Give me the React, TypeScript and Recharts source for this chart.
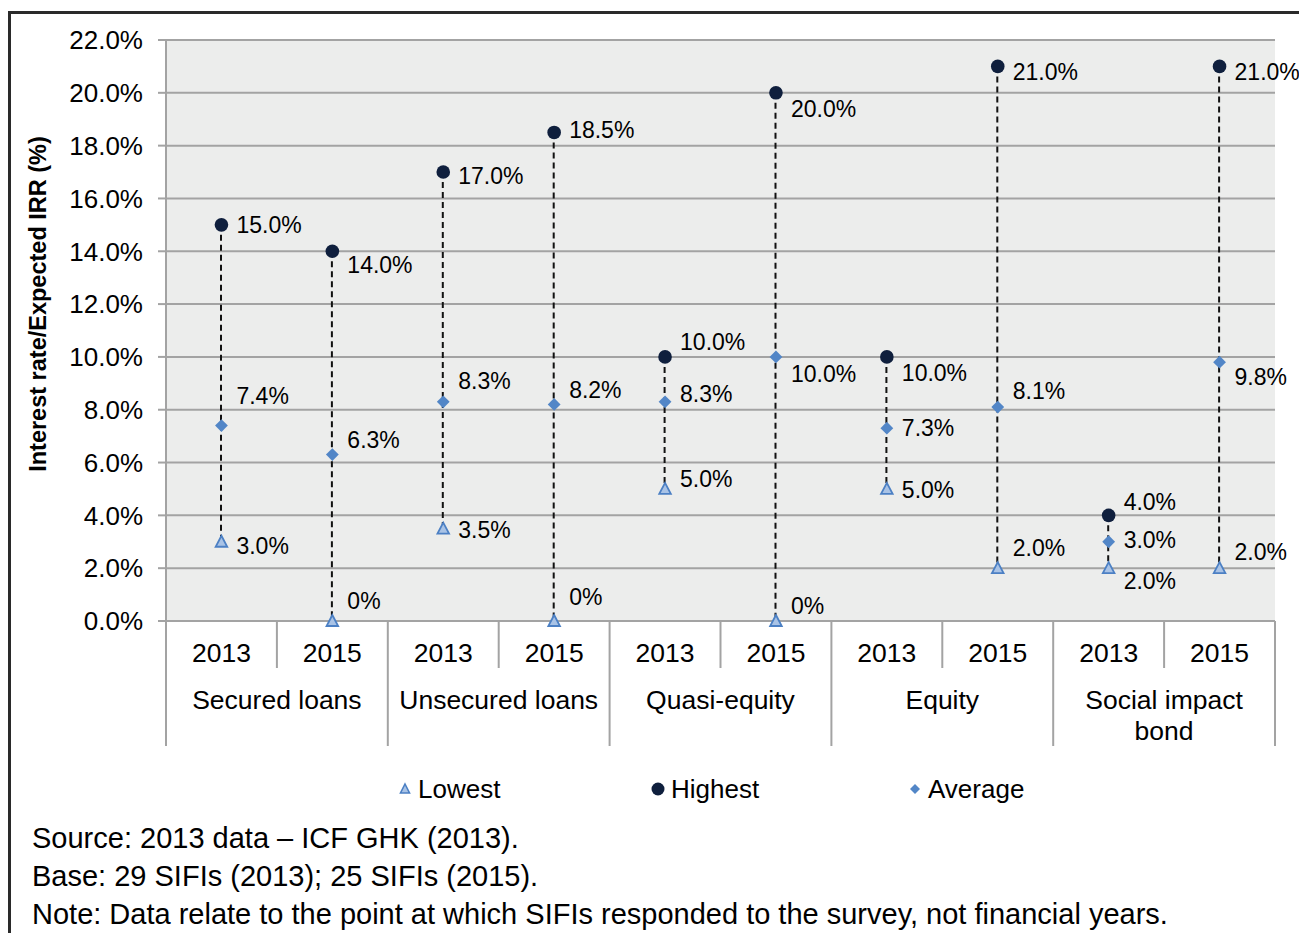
import React from 'react'
import { ComposedChart, Bar, Line, XAxis, YAxis, CartesianGrid, Legend } from 'recharts'

// --- data (percent) ---
const groups = ['Secured loans', 'Unsecured loans', 'Quasi-equity', 'Equity', 'Social impact bond']
const years = ['2013', '2015', '2013', '2015', '2013', '2015', '2013', '2015', '2013', '2015']
const lowest = [3.0, 0, 3.5, 0, 5.0, 0, 5.0, 2.0, 2.0, 2.0]
const highest = [15.0, 14.0, 17.0, 18.5, 10.0, 20.0, 10.0, 21.0, 4.0, 21.0]
const average = [7.4, 6.3, 8.3, 8.2, 8.3, 10.0, 7.3, 8.1, 3.0, 9.8]
const yTicks = [0, 2, 4, 6, 8, 10, 12, 14, 16, 18, 20, 22]

const footnotes = [
  'Source: 2013 data – ICF GHK (2013).',
  'Base: 29 SIFIs (2013); 25 SIFIs (2015).',
  'Note: Data relate to the point at which SIFIs responded to the survey, not financial years.',
]

// vertical nudges for the data labels so they don't collide (px)
const highDy = [0, 14, 4, -2, -15, 16, 16, 6, -13, 6]
const avgDy = [-30, -15, -21, -14, -8, 17, 0, -16, -2, 15]
const lowDy = [4, -20, 1, -24, -10, -15, 1, -20, 13, -16]

const data = years.map((year, i) => ({
  idx: i,
  year,
  group: groups[Math.floor(i / 2)],
  low: lowest[i],
  high: highest[i],
  avg: average[i],
}))

// --- layout ---
const FONT = '"Liberation Sans", Arial, Helvetica, sans-serif'
const W = 1299
const H = 810
const MARGIN = { top: 40, right: 24, left: 0, bottom: 0 }
const Y_W = 166
const X_H = 125
const LEG_H = 64
const PLOT_B = H - LEG_H - X_H
const BW = (W - MARGIN.right - MARGIN.left - Y_W) / years.length
const AXIS = '#a3a3a3'
const NAVY = '#0f1f3d'
const MID_BLUE = '#5286c7'
const TRI_STROKE = '#4c80c4'
const TRI_FILL = '#a9c3e6'

const fmtPct = (v: number) => (v === 0 ? '0%' : `${v.toFixed(1)}%`)

const wrap = (s: string, max = 16) => {
  if (s.length <= max) return [s]
  const cut = s.lastIndexOf(' ', max)
  return [s.slice(0, cut), s.slice(cut + 1)]
}

const RangeLine = (props: any) => {
  const { x, y, width, height } = props
  if (x == null || y == null) return null
  const cx = x + width / 2
  return (
    <line x1={cx} x2={cx} y1={y} y2={y + height} stroke="#111" strokeWidth={2} strokeDasharray="6 4" />
  )
}

const circleDot = (p: any) => (
  <circle key={`h-${p.index}`} cx={p.cx} cy={p.cy} r={6.8} fill={NAVY} />
)
const diamondDot = (p: any) => (
  <path
    key={`a-${p.index}`}
    d={`M${p.cx},${p.cy - 6.4}L${p.cx + 6.4},${p.cy}L${p.cx},${p.cy + 6.4}L${p.cx - 6.4},${p.cy}Z`}
    fill={MID_BLUE}
  />
)
const triangleDot = (p: any) => (
  <path
    key={`l-${p.index}`}
    d={`M${p.cx},${p.cy - 6}L${p.cx + 5.8},${p.cy + 5}L${p.cx - 5.8},${p.cy + 5}Z`}
    fill={TRI_FILL}
    stroke={TRI_STROKE}
    strokeWidth={1.8}
    strokeLinejoin="miter"
  />
)

const makeLabel = (dy: number[]) => (props: any) => {
  const { x, y, value, index } = props
  return (
    <text
      key={`lbl-${index}`}
      x={x + 15}
      y={y + dy[index]}
      dominantBaseline="central"
      fontSize={23}
      fontFamily={FONT}
      fill="#000"
    >
      {fmtPct(value)}
    </text>
  )
}

const CategoryTick = (props: any) => {
  const { x, index } = props
  const left = x - BW / 2
  const right = x + BW / 2
  const groupStart = index % 2 === 0
  const lines = groupStart ? wrap(groups[index / 2]) : []
  return (
    <g>
      <line x1={left} x2={left} y1={PLOT_B} y2={groupStart ? PLOT_B + X_H : PLOT_B + 47} stroke={AXIS} strokeWidth={2} />
      {index === years.length - 1 && (
        <line x1={right} x2={right} y1={PLOT_B} y2={PLOT_B + X_H} stroke={AXIS} strokeWidth={2} />
      )}
      <text x={x} y={PLOT_B + 32} textAnchor="middle" dominantBaseline="central" fontSize={26.5} fontFamily={FONT} fill="#000">
        {years[index]}
      </text>
      {lines.map((ln, k) => (
        <text
          key={k}
          x={right}
          y={PLOT_B + 79 + k * 31}
          textAnchor="middle"
          dominantBaseline="central"
          fontSize={26.5}
          fontFamily={FONT}
          fill="#000"
        >
          {ln}
        </text>
      ))}
    </g>
  )
}

const legendItems = [
  { name: 'Lowest', cx: 405, kind: 'tri' },
  { name: 'Highest', cx: 658, kind: 'circle' },
  { name: 'Average', cx: 915, kind: 'diamond' },
]

const LegendContent = () => (
  <div style={{ position: 'relative', width: W, height: LEG_H, fontFamily: FONT, fontSize: 26, color: '#000' }}>
    {legendItems.map((it) => (
      <div
        key={it.name}
        style={{ position: 'absolute', left: it.cx - 8, top: 28, height: 30, display: 'flex', alignItems: 'center' }}
      >
        <svg width={16} height={16} style={{ display: 'block' }}>
          {it.kind === 'tri' && (
            <path d="M8,3L12.5,12L3.5,12Z" fill={TRI_FILL} stroke={TRI_STROKE} strokeWidth={1.6} />
          )}
          {it.kind === 'circle' && <circle cx={8} cy={8} r={6.5} fill={NAVY} />}
          {it.kind === 'diamond' && <path d="M8,3L13,8L8,13L3,8Z" fill={MID_BLUE} />}
        </svg>
        <span style={{ marginLeft: 5, lineHeight: '30px' }}>{it.name}</span>
      </div>
    ))}
  </div>
)

export default function App() {
  return (
    <div style={{ position: 'absolute', left: 0, top: 0, width: W, height: 933, overflow: 'hidden', background: '#fff' }}>
      <div
        style={{
          position: 'absolute',
          left: 8,
          top: 11,
          width: 1400,
          height: 1000,
          borderTop: '3px solid #2a2a2a',
          borderLeft: '3px solid #2a2a2a',
        }}
      />
      <div style={{ position: 'absolute', left: 0, top: 0 }}>
        <ComposedChart width={W} height={H} data={data} margin={MARGIN}>
          <CartesianGrid vertical={false} fill="#ecedec" stroke={AXIS} strokeWidth={2} fillOpacity={1} />
          <XAxis
            dataKey="idx"
            type="category"
            height={X_H}
            axisLine={{ stroke: AXIS, strokeWidth: 2 }}
            tickLine={false}
            interval={0}
            tick={<CategoryTick />}
          />
          <YAxis
            width={Y_W}
            domain={[0, 22]}
            ticks={yTicks}
            interval={0}
            tickFormatter={(v: number) => `${v.toFixed(1)}%`}
            tick={{ fontSize: 26, fill: '#000', fontFamily: FONT }}
            tickSize={8}
            tickMargin={15}
            axisLine={{ stroke: AXIS, strokeWidth: 2 }}
            tickLine={{ stroke: AXIS, strokeWidth: 2 }}
          />
          <Legend verticalAlign="bottom" height={LEG_H} wrapperStyle={{ left: 0, bottom: 0, width: W }} content={<LegendContent />} />
          <Bar
            dataKey={(d: any) => [d.low, d.high]}
            barSize={4}
            shape={(p: any) => <RangeLine {...p} />}
            isAnimationActive={false}
            legendType="none"
          />
          <Line
            dataKey="high"
            name="Highest"
            stroke="none"
            dot={circleDot}
            activeDot={false}
            label={makeLabel(highDy)}
            isAnimationActive={false}
          />
          <Line
            dataKey="avg"
            name="Average"
            stroke="none"
            dot={diamondDot}
            activeDot={false}
            label={makeLabel(avgDy)}
            isAnimationActive={false}
          />
          <Line
            dataKey="low"
            name="Lowest"
            stroke="none"
            dot={triangleDot}
            activeDot={false}
            label={makeLabel(lowDy)}
            isAnimationActive={false}
          />
        </ComposedChart>
      </div>
      <svg style={{ position: 'absolute', left: 0, top: 0 }} width={80} height={600}>
        <text
          x={38}
          y={304}
          transform="rotate(-90 38 304)"
          textAnchor="middle"
          dominantBaseline="central"
          fontSize={23.5}
          fontWeight="bold"
          fontFamily={FONT}
          fill="#000"
        >
          Interest rate/Expected IRR (%)
        </text>
      </svg>
      <div style={{ position: 'absolute', left: 32, top: 819, fontFamily: FONT, fontSize: 29, lineHeight: '38px', color: '#000' }}>
        {footnotes.map((f) => (
          <div key={f} style={{ whiteSpace: 'nowrap' }}>{f}</div>
        ))}
      </div>
    </div>
  )
}
